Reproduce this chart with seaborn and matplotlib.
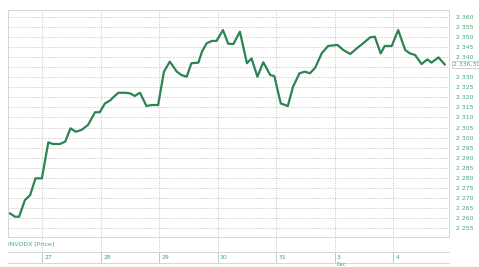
import numpy as np
import pandas as pd
import matplotlib
matplotlib.use("Agg")
import matplotlib.pyplot as plt
import seaborn as sns

# ---- data ----
day_labels = ["27", "28", "29", "30", "31", "3", "4"]
times = [-0.56, -0.47, -0.40, -0.30, -0.21, -0.12, -0.01, 0.10, 0.18, 0.30,
         0.39, 0.48, 0.57, 0.67, 0.78, 0.90, 0.98, 1.07, 1.16, 1.21,
         1.30, 1.41, 1.50, 1.58, 1.67, 1.78, 1.87, 1.98, 2.08, 2.18,
         2.30, 2.38, 2.47, 2.55, 2.67, 2.73, 2.81, 2.90, 2.98, 3.09,
         3.18, 3.27, 3.38, 3.50, 3.58, 3.68, 3.78, 3.90, 3.97, 4.08,
         4.20, 4.29, 4.40, 4.49, 4.58, 4.67, 4.78, 4.89, 5.05, 5.15,
         5.27, 5.38, 5.49, 5.61, 5.69, 5.79, 5.86, 5.98, 6.09, 6.21,
         6.29, 6.38, 6.49, 6.59, 6.66, 6.78, 6.89]
prices = [2262.3, 2260.6, 2260.6, 2268.9, 2271.4, 2279.7, 2279.7, 2297.6, 2296.8, 2296.8,
          2298.0, 2304.6, 2302.9, 2303.8, 2306.3, 2312.6, 2312.6, 2317.0, 2318.5, 2320.0,
          2322.3, 2322.3, 2322.0, 2320.7, 2322.3, 2315.7, 2316.2, 2316.2, 2332.8, 2337.8,
          2332.8, 2331.1, 2330.3, 2337.0, 2337.3, 2342.7, 2346.9, 2348.1, 2348.1, 2353.5,
          2346.7, 2346.6, 2352.7, 2337.0, 2339.4, 2330.3, 2337.5, 2331.1, 2330.6, 2317.0,
          2315.7, 2325.3, 2332.0, 2332.8, 2332.0, 2334.8, 2341.9, 2345.6, 2346.1, 2343.6,
          2341.6, 2344.4, 2346.9, 2349.9, 2350.2, 2341.9, 2345.6, 2345.6, 2353.5, 2343.6,
          2341.9, 2341.1, 2336.6, 2338.9, 2337.3, 2339.9, 2336.3]
last_price = 2336.30
last_label = "2 336,30"
y_ticks = list(range(2255, 2361, 5))
series_label = "INVODX [Price]"
month_label = "Dec"

df = pd.DataFrame({"t": times, "price": prices})

sns.set_style("white")
plt.rcParams["font.family"] = ["DejaVu Sans"]

W, H = 479, 267
fig = plt.figure(figsize=(W / 100, H / 100), dpi=100)

def rect(l, t, r, b):
    return [l / W, 1 - b / H, (r - l) / W, (b - t) / H]

line_c = "#2b8452"
lab_c = "#45a878"
grid_c = "#bdbdbd"
frame_c = "#d6d6d6"
XLIM = (-0.59, 6.96)

ax = fig.add_axes(rect(8, 10, 449, 237))
sns.lineplot(data=df, x="t", y="price", ax=ax, color=line_c, linewidth=1.6)
ax.set_xlim(*XLIM)
ax.set_ylim(2250.5, 2363.5)
ax.set_xlabel("")
ax.set_ylabel("")
ax.yaxis.tick_right()
ax.set_yticks(y_ticks)
ax.set_yticklabels(["" if v == 2335 else f"2 {v - 2000:03d}" for v in y_ticks])
ax.set_xticks(range(len(day_labels)))
ax.set_xticklabels([])
ax.tick_params(axis="y", length=0, pad=5, labelsize=4.4, labelcolor=lab_c)
ax.tick_params(axis="x", length=0)
ax.grid(True, color=grid_c, linestyle=(0, (1.2, 1.6)), linewidth=0.6)
for s in ax.spines.values():
    s.set_color(frame_c)
    s.set_linewidth(0.7)

ax.annotate(last_label,
            xy=(1.0, last_price), xycoords=("axes fraction", "data"),
            xytext=(3, 0), textcoords="offset points", ha="left", va="center",
            fontsize=4.4, color=lab_c,
            bbox=dict(boxstyle="square,pad=0.15", fc="white", ec="#bbbbbb", lw=0.5))

# dotted vertical guides through the gap between panels
axg = fig.add_axes(rect(8, 237, 449, 252))
axg.set_xlim(*XLIM)
axg.set_ylim(0, 1)
axg.axis("off")
axg.vlines(range(len(day_labels)), 0, 1, color=grid_c,
           linestyle=(0, (1.2, 1.6)), linewidth=0.6)

# label between panels
fig.text(8 / W, 1 - 244 / H, series_label, fontsize=4.4, color=lab_c,
         ha="left", va="center")

# bottom date strip
ax2 = fig.add_axes(rect(8, 252, 449, 263))
ax2.set_xlim(*XLIM)
ax2.set_ylim(0, 1)
ax2.set_yticks([])
ax2.set_xticks(range(len(day_labels)))
ax2.set_xticklabels([])
ax2.tick_params(axis="x", length=0)
ax2.grid(True, axis="x", color=grid_c, linewidth=0.6)
for s in ax2.spines.values():
    s.set_color(frame_c)
    s.set_linewidth(0.7)
ax2.spines["left"].set_visible(False)
ax2.spines["right"].set_visible(False)
for i, lab in enumerate(day_labels):
    ax2.text(i + 0.04, 0.5, lab, fontsize=4.4, color=lab_c, ha="left", va="center")

fig.text((8 + (5.04 - XLIM[0]) / (XLIM[1] - XLIM[0]) * 441) / W, 0.5 / H,
         month_label, fontsize=3.6, color=lab_c, ha="left", va="bottom")

fig.savefig("out.png", dpi=100)
